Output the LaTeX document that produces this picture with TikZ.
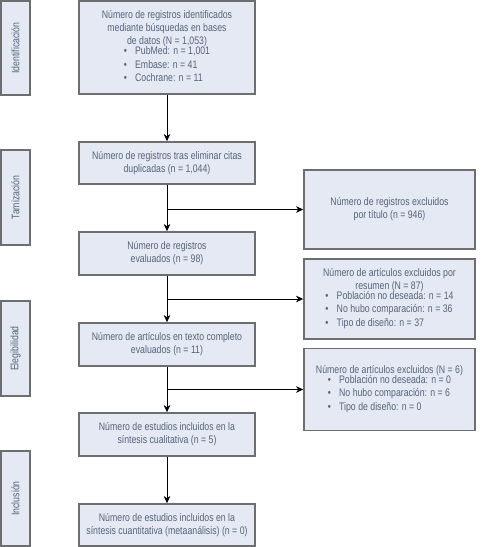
\documentclass[tikz,border=0pt]{standalone}
\usepackage{fontspec}
\setmainfont{Liberation Sans}[FakeStretch=0.8]
\usetikzlibrary{arrows.meta}
\definecolor{boxfill}{HTML}{E4E9F4}
\definecolor{boxline}{HTML}{6E6E70}
\definecolor{txt}{HTML}{56657A}
\tikzset{
  px/.style={x=0.75pt,y=-0.75pt},
  box/.style={draw=boxline, line width=1.1pt, fill=boxfill, text=txt, inner sep=0pt,
    align=center, font=\fontsize{8.2}{9.8}\selectfont},
  mainbox/.style={box, minimum width=132pt},
  sidebox/.style={box, minimum width=21.75pt},
  rightbox/.style={box, minimum width=128.25pt},
  flow/.style={draw=black, line width=0.75pt, -{Stealth[length=5.5pt,width=5pt]}}
}
\newcommand{\blist}[1]{\begin{tabular}{@{}l@{}}#1\end{tabular}}
\newcommand{\bit}{\textbullet\hspace{0.75em}}
\begin{document}
\begin{tikzpicture}[px]
\useasboundingbox (0,0) rectangle (480,547);
% side labels
\node[sidebox, minimum height=70.5pt] (s1) at (15.5,48) {\rotatebox{90}{Identificación}};
\node[sidebox, minimum height=71.25pt] (s2) at (15.5,197.5) {\rotatebox{90}{Tamización}};
\node[sidebox, minimum height=71.25pt] (s3) at (15.5,348.5) {\rotatebox{90}{Elegibilidad}};
\node[sidebox, minimum height=71.25pt] (s4) at (15.5,498.5) {\rotatebox{90}{Inclusión}};
% main column
\node[mainbox, minimum height=69.75pt] (b1) at (167,47.5) {Número de registros identificados\\ mediante búsquedas en bases\\ de datos (N = 1,053)\\[-1.5pt] \blist{\bit PubMed: n = 1,001\\ \bit Embase: n = 41\\ \bit Cochrane: n = 11}};
\node[mainbox, minimum height=31.5pt] (b2) at (167,163) {Número de registros tras eliminar citas\\ duplicadas (n = 1,044)};
\node[mainbox, minimum height=32.25pt] (b3) at (167,253.5) {Número de registros\\ evaluados (n = 98)};
\node[mainbox, minimum height=32.25pt] (b4) at (167,344.5) {Número de artículos en texto completo\\ evaluados (n = 11)};
\node[mainbox, minimum height=32.25pt] (b5) at (167,434.5) {Número de estudios incluidos en la\\ síntesis cualitativa (n = 5)};
\node[mainbox, minimum height=31.5pt] (b6) at (167,525) {Número de estudios incluidos en la\\ síntesis cuantitativa (metaanálisis) (n = 0)};
% right column
\node[rightbox, minimum height=59.25pt] (r1) at (389.5,209.5) {Número de registros excluidos\\ por título (n = 946)};
\node[rightbox, minimum height=60pt] (r2) at (389.5,299) {Número de artículos excluidos por\\ resumen (N = 87)\\[-1.5pt] \blist{\bit Población no deseada: n = 14\\ \bit No hubo comparación: n = 36\\ \bit Tipo de diseño: n = 37}};
\node[rightbox, minimum height=61.5pt] (r3) at (389.5,389.5) {Número de artículos excluidos (N = 6)\\[-1.5pt] \blist{\bit Población no deseada: n = 0\\ \bit No hubo comparación: n = 6\\ \bit Tipo de diseño: n = 0}};
% connectors
\draw[flow] (b1) -- (b2);
\draw[flow] (b2) -- (b3);
\draw[flow] (b3) -- (b4);
\draw[flow] (b4) -- (b5);
\draw[flow] (b5) -- (b6);
\coordinate (j1) at (b2.south |- r1.west);
\coordinate (j2) at (b3.south |- r2.west);
\coordinate (j3) at (b4.south |- r3.west);
\draw[flow] (j1) -- (r1.west);
\draw[flow] (j2) -- (r2.west);
\draw[flow] (j3) -- (r3.west);
\end{tikzpicture}
\end{document}
